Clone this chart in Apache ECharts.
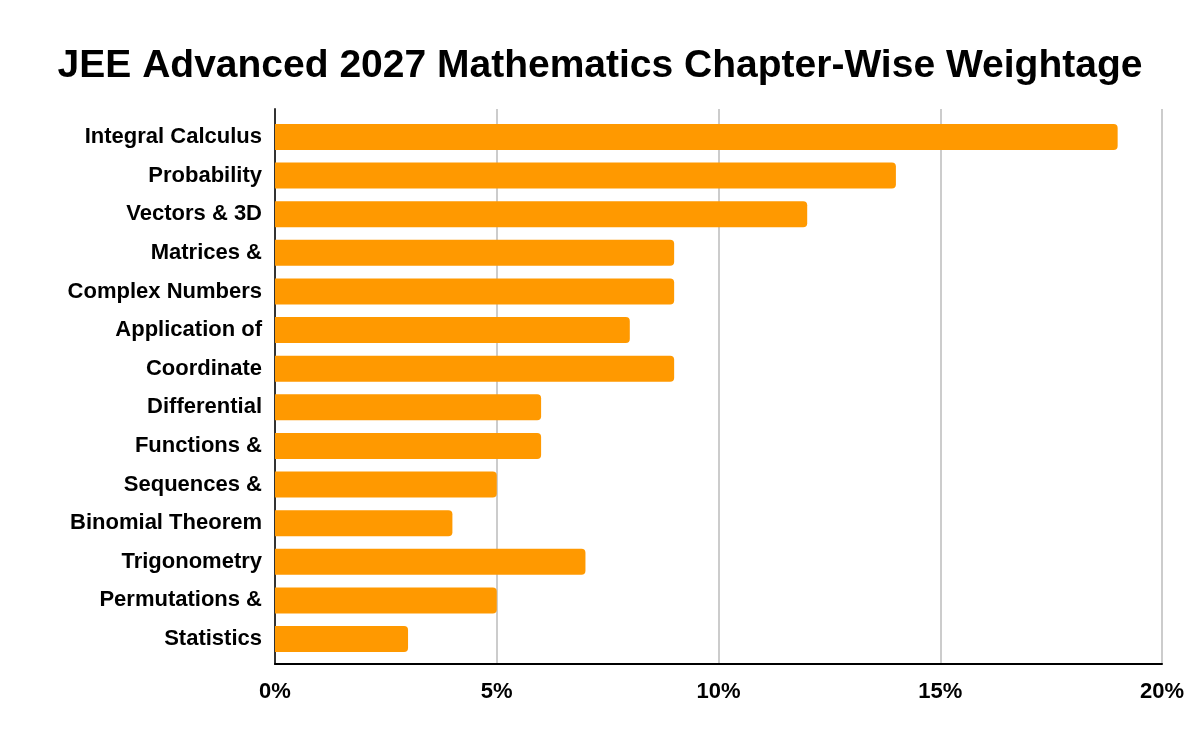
<!DOCTYPE html>
<html>
<head>
<meta charset="utf-8">
<script src="https://cdn.jsdelivr.net/npm/echarts@6/dist/echarts.min.js"></script>
<style>
html, body { margin: 0; padding: 0; background: #fff; }
#main { width: 1200px; height: 742px; }
</style>
</head>
<body>
<div id="main"></div>
<script>
var chapters = ['Integral Calculus', 'Probability', 'Vectors & 3D', 'Matrices &', 'Complex Numbers',
    'Application of', 'Coordinate', 'Differential', 'Functions &', 'Sequences &',
    'Binomial Theorem', 'Trigonometry', 'Permutations &', 'Statistics'];
var weightage = [19, 14, 12, 9, 9, 8, 9, 6, 6, 5, 4, 7, 5, 3];
var xTicks = [0, 5, 10, 15, 20];

var chart = echarts.init(document.getElementById('main'));
var font = 'Liberation Sans, Arial, sans-serif';

option = {
    animation: false,
    title: {
        text: 'JEE Advanced 2027 Mathematics Chapter-Wise Weightage',
        left: 'center',
        top: 42,
        textStyle: { fontFamily: font, fontSize: 39, fontWeight: 'bold', color: '#000' }
    },
    grid: [
        // bars
        { left: 275, right: 38, top: 117.7, height: 540.6 },
        // axis frame
        { left: 275, right: 38, top: 109, bottom: 78 }
    ],
    xAxis: [
        {
            gridIndex: 0, type: 'value', min: 0, max: 20, interval: 5,
            axisLine: { show: false }, axisTick: { show: false },
            axisLabel: { show: false }, splitLine: { show: false }
        },
        {
            gridIndex: 1, type: 'value', min: xTicks[0], max: xTicks[xTicks.length - 1], interval: 5,
            axisLine: { show: true, lineStyle: { color: '#000', width: 2 } },
            axisTick: { show: false },
            axisLabel: {
                formatter: '{value}%', margin: 17,
                fontFamily: font, fontSize: 22, fontWeight: 'bold', color: '#000'
            },
            splitLine: { show: true, lineStyle: { color: '#ccc', width: 2 } }
        }
    ],
    yAxis: [
        {
            gridIndex: 0, type: 'category', inverse: true, data: chapters,
            axisLine: { show: false }, axisTick: { show: false },
            axisLabel: {
                margin: 13, fontFamily: font, fontSize: 22, fontWeight: 'bold', color: '#000'
            }
        },
        {
            gridIndex: 1, type: 'value', min: 0, max: 1,
            axisLine: { show: true, lineStyle: { color: '#333', width: 2 } },
            axisTick: { show: false }, axisLabel: { show: false }, splitLine: { show: false }
        }
    ],
    series: [
        {
            type: 'bar',
            xAxisIndex: 0,
            yAxisIndex: 0,
            barWidth: 26,
            itemStyle: { color: '#ff9900', borderRadius: [0, 4, 4, 0] },
            data: weightage,
            z: 3
        }
    ]
};

chart.setOption(option);
window.addEventListener('resize', function () {
    chart.resize();
});
</script>
</body>
</html>
